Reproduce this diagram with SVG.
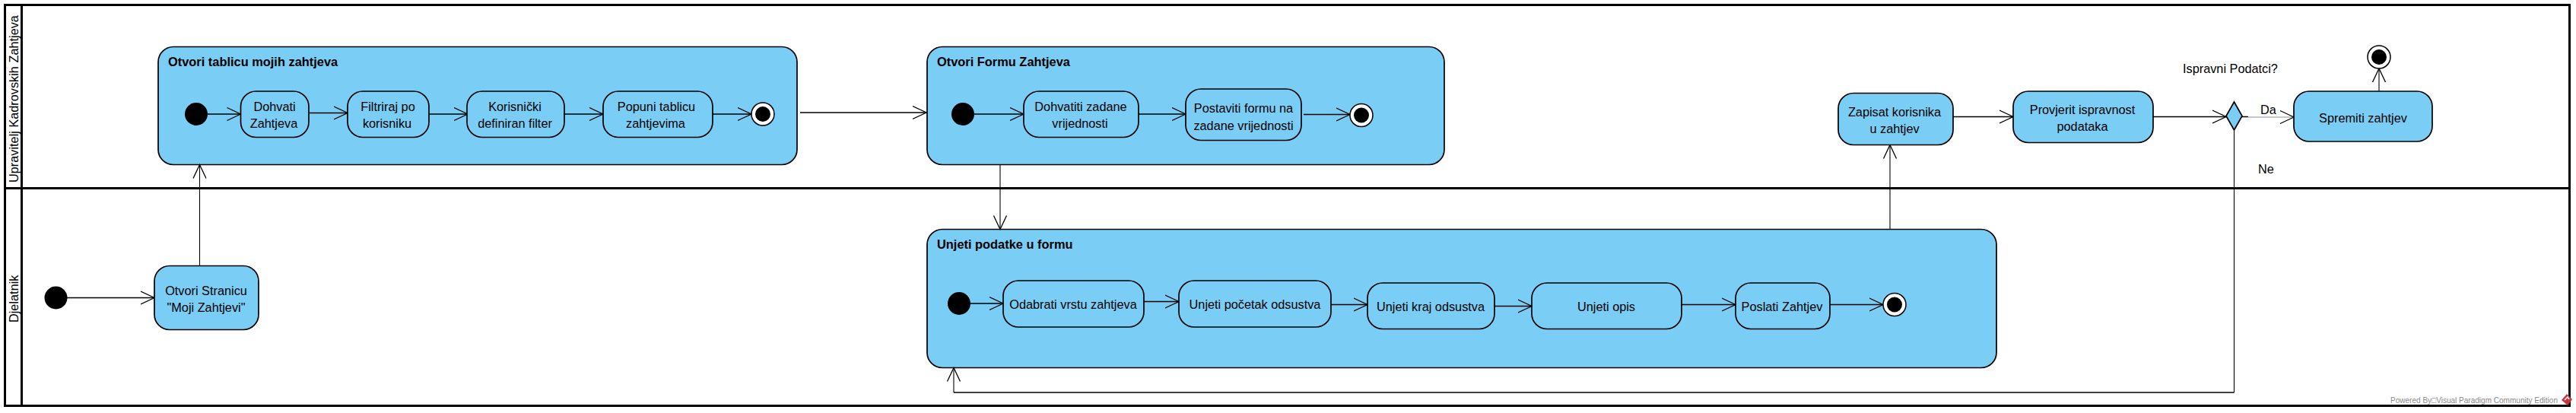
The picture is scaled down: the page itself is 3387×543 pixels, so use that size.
<svg xmlns="http://www.w3.org/2000/svg" width="3387" height="543" viewBox="0 0 3387 543">
<defs>
<marker id="open" markerUnits="userSpaceOnUse" markerWidth="20" markerHeight="20" refX="18.500" refY="10" orient="auto" viewBox="0 0 20 20"><path d="M0.500 1.500L18.500 10L0.500 18.500" fill="none" stroke="#000" stroke-width="1.300"/></marker>
</defs>
<style>
.a{fill:#7acef5;stroke:#000;stroke-width:1.700}
.t{font-family:"Liberation Sans",Arial,sans-serif;font-size:16.300px;fill:#000;text-anchor:middle}
.b{font-family:"Liberation Sans",Arial,sans-serif;font-size:16.400px;font-weight:bold;fill:#000}
.l{font-family:"Liberation Sans",Arial,sans-serif;font-size:16.300px;fill:#000}
.c{fill:none;stroke:#000;stroke-width:1.500;marker-end:url(#open)}
.v{fill:none;stroke:#000;stroke-width:1.100;marker-end:url(#open)}
.f{fill:#fff;stroke:#000;stroke-width:1.500}
</style>
<g id="frame" fill="none" stroke="#000" stroke-width="3">
<rect x="6.500" y="6.500" width="3372" height="527"/>
<path d="M28.500 6.500V533.500"/>
<path d="M6.500 247.500H3378.500"/>
</g>
<g id="lanes">
<text class="l" transform="translate(24,240) rotate(-90)">Upravitelj Kadrovskih Zahtjeva</text>
<text class="l" transform="translate(24,424) rotate(-90)">Djelatnik</text>
</g>
<g id="comp1"><rect class="a" x="208" y="61.500" width="840" height="155" rx="20"/><text class="b" x="221" y="87">Otvori tablicu mojih zahtjeva</text></g>
<g id="comp2"><rect class="a" x="1219" y="61.500" width="680" height="155" rx="20"/><text class="b" x="1232" y="87">Otvori Formu Zahtjeva</text></g>
<g id="comp3"><rect class="a" x="1219" y="301.500" width="1406" height="182" rx="20"/><text class="b" x="1232" y="327">Unjeti podatke u formu</text></g>
<g id="connectors">
<path class="c" d="M273 150H316.500"/>
<path class="c" d="M406 148.500H457"/>
<path class="c" d="M564 150H615"/>
<path class="c" d="M742 150H793"/>
<path class="c" d="M937 150H988"/>
<path class="c" d="M1052 148H1218"/>
<path class="c" d="M1281 150H1346"/>
<path class="c" d="M1497 150H1559"/>
<path class="c" d="M1714 150.500H1775"/>
<path class="v" d="M1315 216.500V301.500"/>
<path class="c" d="M1276 399H1319"/>
<path class="c" d="M1504 396.500H1550"/>
<path class="c" d="M1750 400.500H1798"/>
<path class="c" d="M1965 402.500H2014"/>
<path class="c" d="M2211 400.500H2282"/>
<path class="c" d="M2406 400.500H2476"/>
<path class="v" d="M2485 301.500V190.500"/>
<path class="c" d="M2568 153.500H2647"/>
<path class="c" d="M2831 153.500H2927"/>
<path d="M2948 153.500H2956" stroke="#000" stroke-width="1.500" fill="none"/>
<path d="M2956 154H3015" stroke="#b5b5b5" stroke-width="1.500" fill="none"/>
<path d="M2998 162.500L3016 154L2998 145.500" stroke="#000" stroke-width="1.200" fill="none"/>
<path class="v" d="M3128 120V90"/>
<path d="M2937.500 171V516" fill="none" stroke="#000" stroke-width="1.100"/>
<path d="M2937.500 516H1254" fill="none" stroke="#000" stroke-width="1.500"/>
<path class="v" d="M1254 516V483.500"/>
<path class="c" d="M88 391.500H203"/>
<path class="v" d="M262.500 349.500V216.500"/>
</g>
<g id="start1"><circle cx="258" cy="150" r="15"/></g>
<g id="a1"><rect class="a" x="316.500" y="120" width="89.500" height="60.500" rx="20"/><text class="t" x="361" y="146">Dohvati</text><text class="t" x="360" y="168">Zahtjeva</text></g>
<g id="a2"><rect class="a" x="457" y="120" width="107" height="60.500" rx="20"/><text class="t" x="510" y="146">Filtriraj po</text><text class="t" x="509" y="168">korisniku</text></g>
<g id="a3"><rect class="a" x="614" y="120" width="128" height="60.500" rx="20"/><text class="t" x="677" y="146">Korisnički</text><text class="t" x="677" y="168">definiran filter</text></g>
<g id="a4"><rect class="a" x="793" y="120" width="144" height="60.500" rx="20"/><text class="t" x="863" y="146">Popuni tablicu</text><text class="t" x="862" y="168">zahtjevima</text></g>
<g id="end1"><circle class="f" cx="1003" cy="150" r="15"/><circle cx="1003" cy="150" r="10"/></g>
<g id="start2"><circle cx="1266" cy="150" r="15"/></g>
<g id="a5"><rect class="a" x="1346" y="120" width="151" height="60.500" rx="20"/><text class="t" x="1421" y="146">Dohvatiti zadane</text><text class="t" x="1420" y="168">vrijednosti</text></g>
<g id="a6"><rect class="a" x="1559" y="117" width="152" height="67.500" rx="20"/><text class="t" x="1635" y="147.500">Postaviti formu na</text><text class="t" x="1635" y="171">zadane vrijednosti</text></g>
<g id="end2"><circle class="f" cx="1790" cy="151.500" r="15"/><circle cx="1790" cy="151.500" r="10"/></g>
<g id="start3"><circle cx="1261" cy="399" r="15"/></g>
<g id="a7"><rect class="a" x="1319" y="369" width="185" height="61" rx="20"/><text class="t" x="1411" y="406">Odabrati vrstu zahtjeva</text></g>
<g id="a8"><rect class="a" x="1550" y="369" width="200" height="61" rx="20"/><text class="t" x="1650" y="406">Unjeti početak odsustva</text></g>
<g id="a9"><rect class="a" x="1798" y="372" width="167" height="60.500" rx="20"/><text class="t" x="1881" y="408.500">Unjeti kraj odsustva</text></g>
<g id="a10"><rect class="a" x="2014" y="372" width="197" height="60.500" rx="20"/><text class="t" x="2112" y="408.500">Unjeti opis</text></g>
<g id="a11"><rect class="a" x="2282" y="372" width="124" height="60.500" rx="20"/><text class="t" x="2343" y="408.500">Poslati Zahtjev</text></g>
<g id="end3"><circle class="f" cx="2491" cy="400.500" r="15"/><circle cx="2491" cy="400.500" r="10"/></g>
<g id="a12"><rect class="a" x="2417" y="122.500" width="151" height="68" rx="20"/><text class="t" x="2491" y="152.500">Zapisat korisnika</text><text class="t" x="2491" y="174.500">u zahtjev</text></g>
<g id="a13"><rect class="a" x="2647" y="120" width="184" height="67.500" rx="20"/><text class="t" x="2738" y="149.500">Provjerit ispravnost</text><text class="t" x="2738" y="171.500">podataka</text></g>
<g id="d1"><path class="a" d="M2937.500 134L2948 152.500L2937.500 171L2927 152.500Z"/></g>
<g id="a14"><rect class="a" x="3016" y="120" width="182" height="66" rx="20"/><text class="t" x="3107" y="161">Spremiti zahtjev</text></g>
<g id="end4"><circle class="f" cx="3128" cy="75" r="15"/><circle cx="3128" cy="75" r="10"/></g>
<g id="a0"><rect class="a" x="203" y="349.500" width="137" height="84" rx="20"/><text class="t" x="271" y="387.500">Otvori Stranicu</text><text class="t" x="271" y="410">"Moji Zahtjevi"</text></g>
<g id="start0"><circle cx="73.500" cy="391.500" r="15"/></g>
<text class="l" x="2870" y="96">Ispravni Podatci?</text>
<text class="l" x="2972" y="150">Da</text>
<text class="l" x="2969" y="228">Ne</text>
<g id="credit"><text x="3143" y="530" font-family="Liberation Sans,Arial,sans-serif" font-size="10.500" fill="#8a8a8a" textLength="220" lengthAdjust="spacingAndGlyphs">Powered By□Visual Paradigm Community Edition</text><path d="M3375 518L3382 525L3376 533L3368 526Z" fill="#c8323c"/><path d="M3372 526L3376 522L3378 525" fill="none" stroke="#fff" stroke-width="1.500"/></g>
</svg>
